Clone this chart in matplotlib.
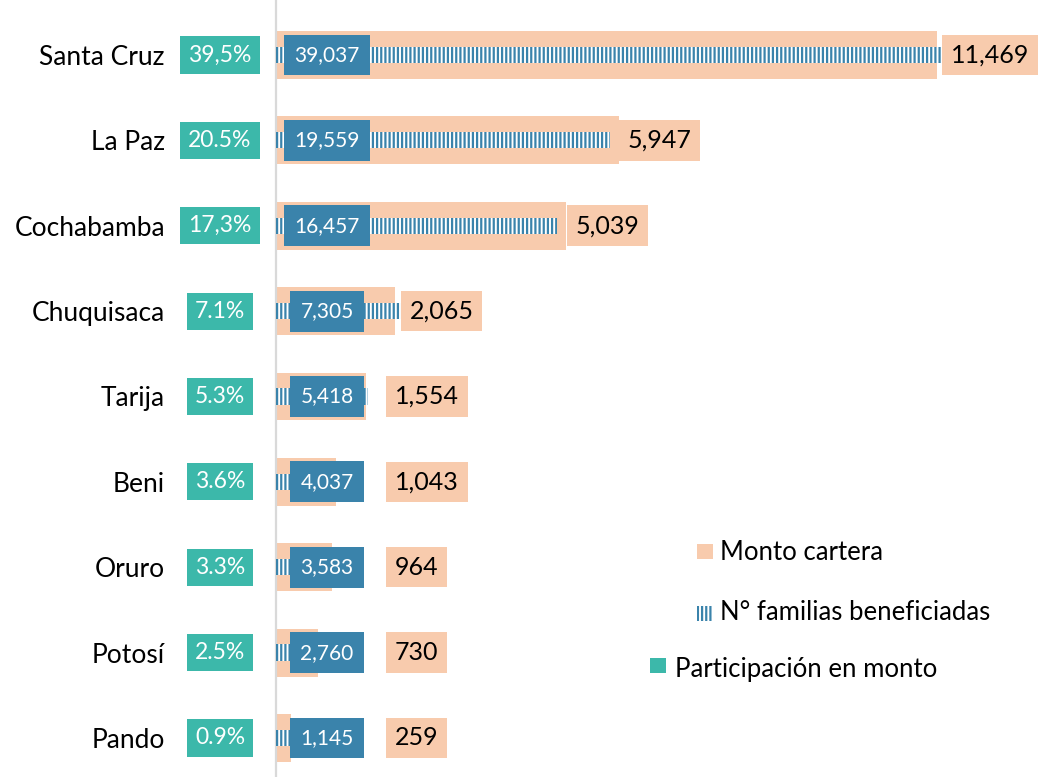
import matplotlib.pyplot as plt
from matplotlib.patches import Rectangle
from matplotlib.transforms import blended_transform_factory

plt.rcParams["font.family"] = ["Lato", "DejaVu Sans"]
plt.rcParams["hatch.linewidth"] = 1.6

departamentos = ["Santa Cruz", "La Paz", "Cochabamba", "Chuquisaca", "Tarija",
                 "Beni", "Oruro", "Potosí", "Pando"]
monto = [11469, 5947, 5039, 2065, 1554, 1043, 964, 730, 259]
familias = [39037, 19559, 16457, 7305, 5418, 4037, 3583, 2760, 1145]
participacion = ["39,5%", "20.5%", "17,3%", "7.1%", "5.3%", "3.6%", "3.3%", "2.5%", "0.9%"]

PEACH = "#F8CBAD"
BLUE = "#3A83AB"
TEAL = "#3CB8AA"
W, H = 1040, 777

fig = plt.figure(figsize=(W / 100, H / 100), dpi=100)
ax = fig.add_axes([276 / W, 0, 1 - 276 / W, 1])
ax2 = ax.twiny()

pos = list(range(len(departamentos)))
ax.set_xlim(0, 11469 * 764 / 661)
ax2.set_xlim(0, 39037 * 764 / 666)
ax.set_ylim(8.457, -0.644)

ax.barh(pos, monto, height=0.56, color=PEACH, zorder=1)
ax2.barh(pos, familias, height=0.19, color="white", edgecolor=BLUE,
         linewidth=0, hatch="||||", zorder=2)

for a in (ax, ax2):
    a.set_xticks([])
    for s in ["top", "right", "bottom", "left"]:
        a.spines[s].set_visible(False)
ax.spines["left"].set_visible(True)
ax.spines["left"].set_color("#D9D9D9")
ax.spines["left"].set_linewidth(1.6)

ax.set_yticks(pos)
ax.set_yticklabels(departamentos, fontsize=19)
ax.tick_params(axis="y", length=0, pad=80)

to_fig = blended_transform_factory(fig.transFigure, ax.transData)

for i in pos:
    # participación
    ax2.text(220 / W, i, participacion[i], transform=to_fig,
             ha="center", va="center", color="white", fontsize=16.5,
             bbox=dict(boxstyle="square,pad=0.35", fc=TEAL, ec="none"), zorder=5)
    # familias
    ax2.text(327 / W, i, f"{familias[i]:,}", transform=to_fig,
             ha="center", va="center", color="white", fontsize=15,
             bbox=dict(boxstyle="square,pad=0.5", fc=BLUE, ec="none"), zorder=5)
    # monto
    end_px = max(ax2.transData.transform((familias[i], 0))[0],
                 ax.transData.transform((monto[i], 0))[0])
    left_px = max(end_px, 386) + 9
    ax2.text(left_px / W, i, f"{monto[i]:,}", transform=to_fig,
             ha="left", va="center", color="black", fontsize=18,
             bbox=dict(boxstyle="square,pad=0.35", fc=PEACH, ec="none"), zorder=5)

# legend
fig.patches.append(Rectangle((697 / W, 1 - 559 / H), 16 / W, 15 / H,
                             transform=fig.transFigure, fc=PEACH, ec="none"))
fig.text(720 / W, 1 - 552 / H, "Monto cartera", fontsize=18.5, va="center")
fig.patches.append(Rectangle((697 / W, 1 - 621 / H), 16 / W, 15 / H,
                             transform=fig.transFigure, fc="white", ec=BLUE,
                             lw=0, hatch="||||"))
fig.text(720 / W, 1 - 613 / H, "N° familias beneficiadas", fontsize=18.5, va="center")
fig.patches.append(Rectangle((650 / W, 1 - 673 / H), 16 / W, 15 / H,
                             transform=fig.transFigure, fc=TEAL, ec="none"))
fig.text(675 / W, 1 - 670 / H, "Participación en monto", fontsize=18.5, va="center")

fig.savefig("out.png", dpi=100)
